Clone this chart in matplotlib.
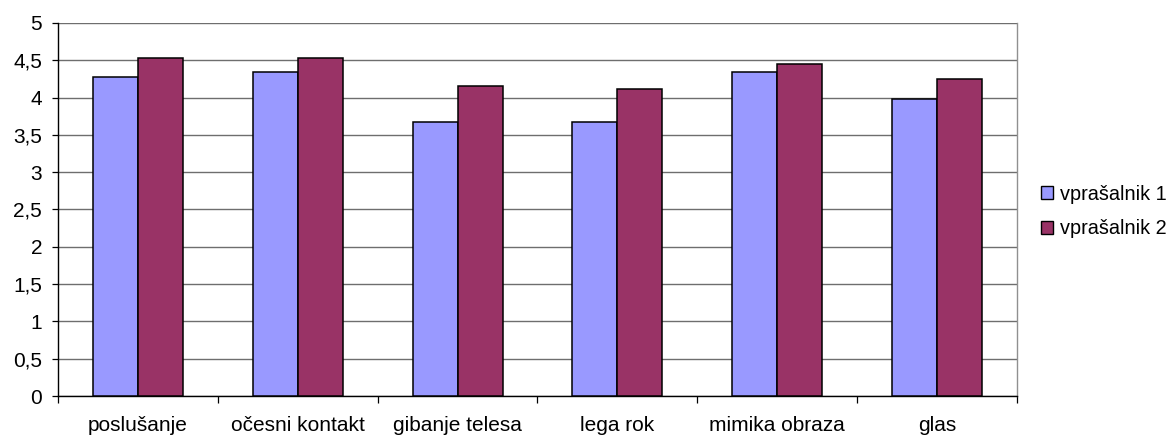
import matplotlib.pyplot as plt
import numpy as np
from matplotlib.ticker import FuncFormatter, FixedLocator

categories = ["poslušanje", "očesni kontakt", "gibanje telesa", "lega rok", "mimika obraza", "glas"]
series_names = ["vprašalnik 1", "vprašalnik 2"]
vprasalnik_1 = [4.27, 4.34, 3.67, 3.67, 4.34, 3.98]
vprasalnik_2 = [4.53, 4.53, 4.16, 4.11, 4.45, 4.25]
colors = ["#9999FF", "#993366"]

plt.rcParams['font.family'] = ['Liberation Sans', 'DejaVu Sans']
FS = 15

fig = plt.figure(figsize=(11.76, 4.38), dpi=100)
ax = fig.add_axes([58 / 1176, 1 - 396 / 438, (1017 - 58) / 1176, (396 - 23) / 438])

x = np.arange(len(categories))
w = 0.282
for i, (vals, name) in enumerate(zip([vprasalnik_1, vprasalnik_2], series_names)):
    ax.bar(x + (i - 0.5) * w, vals, width=w, color=colors[i], edgecolor="black",
           linewidth=1.1, label=name, zorder=3)

ax.set_xlim(-0.5, len(categories) - 0.5)
ax.set_ylim(0, 5)
ax.set_yticks(np.arange(0, 5.01, 0.5))
ax.yaxis.set_major_formatter(FuncFormatter(lambda v, p: f"{v:g}".replace(".", ",")))
ax.yaxis.grid(True, color="#6e6e6e", linewidth=1.0, zorder=0)
ax.set_axisbelow(True)

# category labels centered, tick marks between categories
ax.set_xticks(x)
ax.set_xticklabels(categories)
ax.tick_params(axis="x", length=0, pad=14.5, labelsize=FS)
ax.xaxis.set_minor_locator(FixedLocator(np.arange(-0.5, len(categories), 1.0)))
ax.tick_params(axis="x", which="minor", length=5, width=0.9, color="black")
ax.tick_params(axis="y", length=4.5, width=0.9, labelsize=FS, pad=7)

for s in ["left", "bottom"]:
    ax.spines[s].set_color("black")
    ax.spines[s].set_linewidth(1.0)
ax.spines["right"].set_color("#909090")
ax.spines["right"].set_linewidth(1.0)
ax.spines["top"].set_visible(False)

leg = fig.legend(loc="center left", bbox_to_anchor=(1041 / 1176, 1 - 211.5 / 438),
                 frameon=False, fontsize=14.3, borderpad=0, borderaxespad=0,
                 handlelength=0.58, handleheight=0.58,
                 handletextpad=0.4, labelspacing=0.8)
for h in leg.legend_handles:
    h.set_linewidth(1.0)

fig.savefig("out.png", dpi=100)
